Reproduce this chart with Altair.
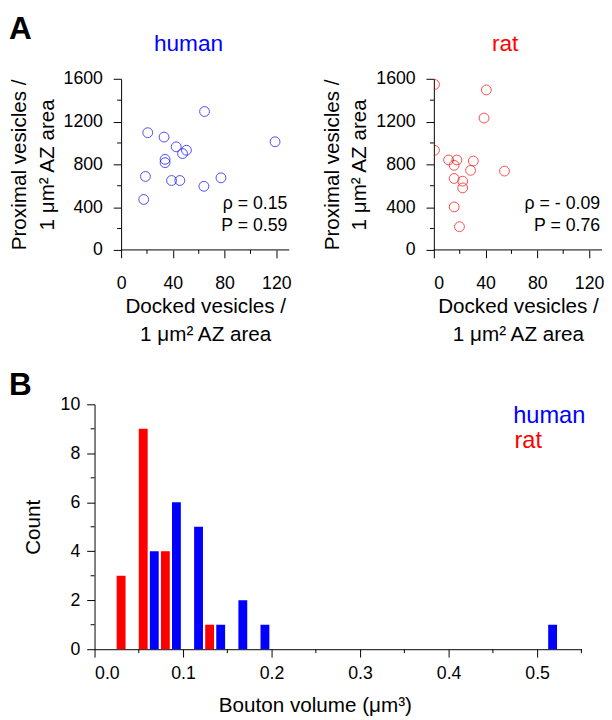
import altair as alt
import pandas as pd

FONT = "Liberation Sans"
BLUE = "#0000ff"
RED = "#ff0000"

# ---- Panel A data ----
human_docked = [20.6, 33.2, 64.5, 119.0, 42.6, 50.5, 47.5, 34.0, 34.0, 18.8, 39.0, 45.4, 77.2, 64.0, 17.5]
human_proximal = [1096, 1055, 1294, 1011, 964, 932, 901, 847, 816, 687, 649, 649, 674, 595, 472]
rat_docked = [0.5, 40.6, 38.8, 0.5, 11.4, 17.8, 15.7, 30.5, 28.4, 54.6, 15.7, 22.3, 22.3, 15.7, 19.8]
rat_proximal = [1547, 1496, 1233, 932, 841, 841, 791, 831, 744, 737, 668, 643, 580, 402, 217]

scatter_x_range = [0, 130]
scatter_x_ticks = [0, 40, 80, 120]
scatter_x_minor = [20, 60, 100]
scatter_y_ticks = [0, 400, 800, 1200, 1600]
scatter_y_minor = [200, 600, 1000, 1400]

# ---- Panel B data ----
rat_bins = [0.025, 0.05, 0.075, 0.125]
rat_counts = [3, 9, 4, 1]
human_bins = [0.05, 0.075, 0.1, 0.125, 0.15, 0.175, 0.5]
human_counts = [4, 6, 5, 1, 2, 1, 1]
hist_x_ticks = [0.0, 0.1, 0.2, 0.3, 0.4, 0.5]
hist_x_minor = [0.05, 0.15, 0.25, 0.35, 0.45, 0.55]
hist_y_ticks = [0, 2, 4, 6, 8, 10]
hist_y_minor = [1, 3, 5, 7, 9]

SW, SH = 171, 174
HW, HH = 495, 249
EXT = 27  # extra room left of the human panel so that panel B's axis can sit further left


def minor_y(vals, scale, axis, x0=0):
    return alt.Chart(pd.DataFrame({"v": vals})).mark_rule(color="black", strokeWidth=1).encode(
        y=alt.Y("v:Q", scale=scale, axis=axis), x=alt.value(x0), x2=alt.value(x0 - 4))


def minor_x(vals, scale, axis, h):
    return alt.Chart(pd.DataFrame({"v": vals})).mark_rule(color="black", strokeWidth=1).encode(
        x=alt.X("v:Q", scale=scale, axis=axis), y=alt.value(h), y2=alt.value(h + 4))


def label(txt, x, y, size, color="black", weight="normal", align="left"):
    return alt.Chart(pd.DataFrame({"t": [txt]})).mark_text(
        align=align, baseline="alphabetic", font=FONT, fontSize=size, fontWeight=weight, color=color).encode(
        text="t:N", x=alt.value(x), y=alt.value(y))


def scatter(docked, proximal, color, name, rho, pval, ext=0, panel=None, title_dx=0):
    unit = SW / (scatter_x_range[1] - scatter_x_range[0])
    xs = alt.Scale(domain=[scatter_x_range[0] - ext / unit, scatter_x_range[1]], nice=False, zero=False)
    ys = alt.Scale(domain=[0, 1600], nice=False)
    xa = alt.Axis(values=scatter_x_ticks, title=["Docked vesicles /", "1 \u03bcm\u00b2 AZ area"],
                  titlePadding=4, labelPadding=17, domain=False, titleX=ext + SW / 2)
    ya = alt.Axis(values=scatter_y_ticks, format="d", title=["Proximal vesicles /", "1 \u03bcm\u00b2 AZ area"],
                  titlePadding=6, labelPadding=11, offset=-ext)
    df = pd.DataFrame({"docked": docked, "proximal": proximal})
    pts = alt.Chart(df).mark_point(shape="circle", filled=False, color=color, size=100,
                                   strokeWidth=1, clip=True).encode(
        x=alt.X("docked:Q", scale=xs, axis=xa),
        y=alt.Y("proximal:Q", scale=ys, axis=ya),
    )
    base = alt.Chart(pd.DataFrame({"a": [scatter_x_range[0]], "b": [scatter_x_range[1]]})).mark_rule(
        color="black", strokeWidth=1).encode(
        x=alt.X("a:Q", scale=xs, axis=xa), x2="b:Q", y=alt.value(SH))
    layers = [pts, base, minor_y(scatter_y_minor, ys, ya, ext), minor_x(scatter_x_minor, xs, xa, SH),
              label(rho, ext + SW - 2, 132, 18, align="right"),
              label(pval, ext + SW - 2, 155, 18, align="right"),
              label(name, ext + SW / 2 + title_dx, -28, 23, color=color, align="center")]
    if panel:
        layers.append(label(panel, -87 + ext - 27, -40, 32, weight="bold"))
    return alt.layer(*layers).properties(width=SW + ext, height=SH)


left = scatter(human_docked, human_proximal, BLUE, "human", "\u03c1 = 0.15", "P = 0.59", ext=EXT, panel="A",
               title_dx=-17)
right = scatter(rat_docked, rat_proximal, RED, "rat", "\u03c1 = - 0.09", "P = 0.76", title_dx=-13)

top = alt.hconcat(left, right, spacing=30)

# histogram
hist_df = pd.DataFrame({
    "bin": rat_bins + human_bins,
    "count": rat_counts + human_counts,
    "species": ["rat"] * len(rat_bins) + ["human"] * len(human_bins),
})
hxs = alt.Scale(domain=[0, 0.55], nice=False, zero=False)
hys = alt.Scale(domain=[0, 10], nice=False)
hxa = alt.Axis(values=hist_x_ticks, format=".1f", title="Bouton volume (\u03bcm\u00b3)", titlePadding=12,
               labelPadding=8, titleX=224)
hya = alt.Axis(values=hist_y_ticks, title="Count", titlePadding=17, labelPadding=7)
bars = alt.Chart(hist_df).transform_calculate(
    x0="datum.bin + (datum.species == 'rat' ? 0 : 0.0125)",
    x1="datum.bin + (datum.species == 'rat' ? 0.01 : 0.0225)",
    base="0",
).mark_bar().encode(
    x=alt.X("x0:Q", scale=hxs, axis=hxa),
    x2="x1:Q",
    y=alt.Y("count:Q", scale=hys, axis=hya),
    y2="base:Q",
    color=alt.Color("species:N", scale=alt.Scale(domain=["human", "rat"], range=[BLUE, RED]), legend=None),
)

hist = alt.layer(
    bars, minor_y(hist_y_minor, hys, hya), minor_x(hist_x_minor, hxs, hxa, HH),
    label("human", HW + 4, 19, 24, color=BLUE, align="right"),
    label("rat", HW + 4 - 72, 44, 24, color=RED),
    label("B", -87, -9, 32, weight="bold"),
).properties(width=HW, height=HH)

chart = alt.concat(top, hist, columns=1, spacing=26).properties(padding=0).configure_view(
    stroke=None
).configure_axis(
    grid=False, domainColor="black", tickColor="black", labelColor="black", titleColor="black",
    labelFont=FONT, titleFont=FONT, labelFontSize=18, titleFontSize=21, titleFontWeight="normal",
    tickSize=8, labelPadding=8, titleLineHeight=28, domainWidth=1, tickWidth=1,
).configure_title(font=FONT)

chart.save("out.html", embed_options={"renderer": "svg", "actions": False})
